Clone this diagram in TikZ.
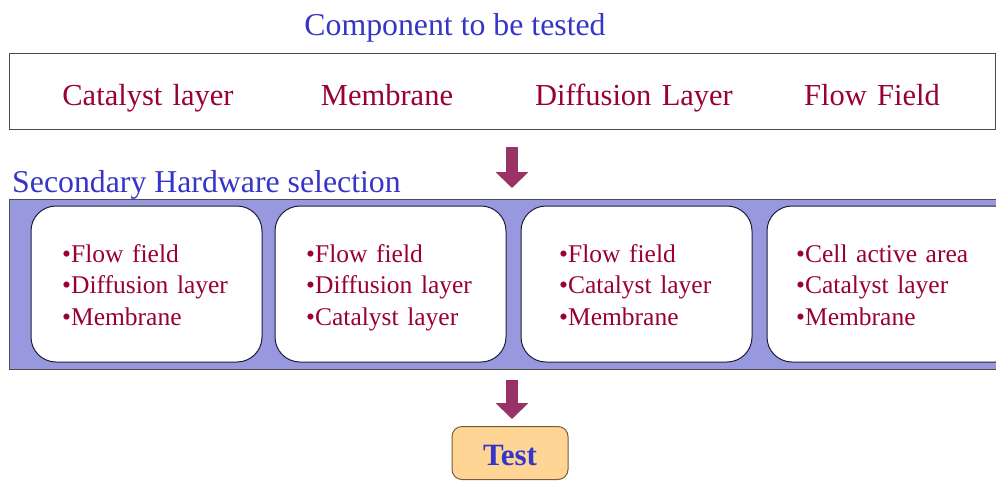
\documentclass[tikz,border=0pt]{standalone}
\usepackage{fontspec}
\setmainfont{Liberation Serif}
\newfontfamily\widefont{Liberation Serif}[WordSpace=1.35]
\usetikzlibrary{arrows.meta}
\definecolor{titleblue}{HTML}{3535C8}
\definecolor{itemred}{HTML}{990033}
\definecolor{arrowred}{HTML}{993366}
\definecolor{bandfill}{HTML}{9898DE}
\definecolor{testfill}{HTML}{FFD595}
\definecolor{testborder}{HTML}{7A5A3A}
\definecolor{boxline}{HTML}{1C1C3C}
\tikzset{
  heading/.style={text=titleblue, font=\fontsize{31.8}{36}\selectfont, inner sep=0pt, anchor=base},
  item/.style={text=itemred, font=\widefont\fontsize{30.5}{34}\selectfont, inner sep=0pt, anchor=base},
  bline/.style={text=itemred, font=\widefont\fontsize{25.5}{32}\selectfont, anchor=base west, inner sep=0pt},
  hwbox/.style={draw=boxline, line width=1pt, fill=white, rounded corners=25pt},
  bigarrow/.style={draw=arrowred, line width=12pt, -{Triangle[width=32pt,length=16pt]}},
}
\newcommand{\hwlines}[5]{%
  \node[bline] (#1a) at (#2,262) {•#3};
  \node[bline] (#1b) at (#2,293.5) {•#4};
  \node[bline] (#1c) at (#2,325) {•#5};
}
\begin{document}
\begin{tikzpicture}[x=1pt,y=-1pt]
\useasboundingbox (0,0) rectangle (996,480);
\node[heading] (title) at (455,35) {Component to be tested};
\draw[draw=black!70, line width=1pt] (9,53) rectangle (995,129);
\node[item] (i1) at (148,105) {Catalyst layer};
\node[item] (i2) at (387,105) {Membrane};
\node[item] (i3) at (634,105) {Diffusion Layer};
\node[item] (i4) at (872,105) {Flow Field};
\coordinate (a1s) at (512,147);
\coordinate (a1e) at (512,188);
\draw[bigarrow] (a1s) -- (a1e);
\node[heading, anchor=base west] (sec) at (12,192) {Secondary Hardware selection};
\draw[draw=black!70, line width=1pt, fill=bandfill] (9,199) rectangle (1000,369);
\draw[hwbox] (31,206) rectangle (262,362);
\draw[hwbox] (275,206) rectangle (506,362);
\draw[hwbox] (521,206) rectangle (752,362);
\draw[hwbox] (767,206) rectangle (1020,362);
\hwlines{b1}{62}{Flow field}{Diffusion layer}{Membrane}
\hwlines{b2}{306}{Flow field}{Diffusion layer}{Catalyst layer}
\hwlines{b3}{559}{Flow field}{Catalyst layer}{Membrane}
\hwlines{b4}{796}{Cell active area}{Catalyst layer}{Membrane}
\coordinate (a2s) at (512,380);
\coordinate (a2e) at (512,419);
\draw[bigarrow] (a2s) -- (a2e);
\node[draw=testborder, line width=1pt, fill=testfill, rounded corners=10pt, minimum width=116pt, minimum height=53pt, anchor=north] (test) at (510,426) {};
\node[text=titleblue, font=\fontsize{31}{34}\selectfont\bfseries, inner sep=0pt, anchor=base] (testlbl) at (510,465) {Test};
\end{tikzpicture}
\end{document}
